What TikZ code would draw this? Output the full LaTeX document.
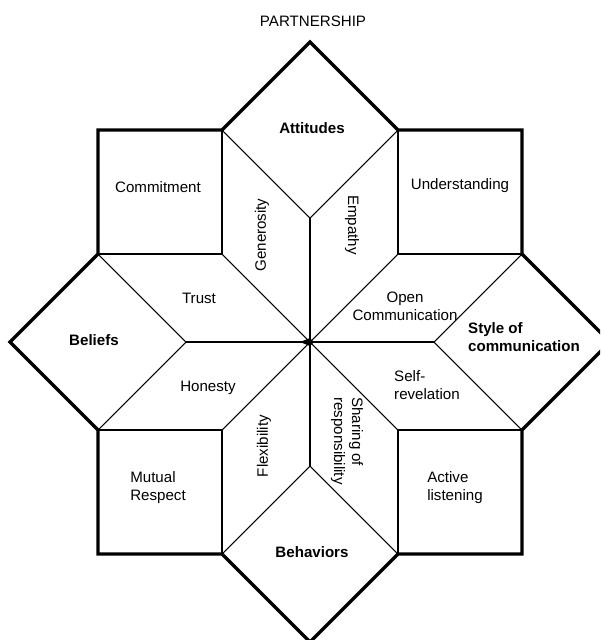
\documentclass[tikz,border=0pt]{standalone}
\usepackage{fontspec}
\setmainfont{Liberation Sans}

\begin{document}
\begin{tikzpicture}[x=0.02cm,y=-0.02cm,
    rim/.style={line width=1.9pt, line join=miter},
    web/.style={line width=0.6pt},
    lbl/.style={font=\fontsize{8.6}{10.3}\selectfont, inner sep=0pt},
    head/.style={lbl, font=\fontsize{8.6}{10.3}\selectfont\bfseries}]
    \useasboundingbox (0,0) rectangle (600,640);
    \clip (0,0) rectangle (600,640);

    % corners of the star
    \coordinate (ctr) at (310,342);
    \coordinate (N0)  at (310,42);
    \coordinate (N1)  at (222,130);
    \coordinate (N2)  at (398,130);
    \coordinate (Nin) at (310,218);
    \coordinate (W0)  at (10,342);
    \coordinate (W1)  at (98,254);
    \coordinate (W2)  at (98,430);
    \coordinate (Win) at (186,342);
    \coordinate (E0)  at (610,342);
    \coordinate (E1)  at (522,254);
    \coordinate (E2)  at (522,430);
    \coordinate (Ein) at (434,342);
    \coordinate (S0)  at (310,642);
    \coordinate (S1)  at (222,554);
    \coordinate (S2)  at (398,554);
    \coordinate (Sin) at (310,466);
    \coordinate (nw)  at (98,130);
    \coordinate (ne)  at (522,130);
    \coordinate (sw)  at (98,554);
    \coordinate (se)  at (522,554);
    \coordinate (inw) at (222,254);
    \coordinate (ine) at (398,254);
    \coordinate (isw) at (222,430);
    \coordinate (ise) at (398,430);

    % inner lines
    \draw[web] (N1) -- (Nin) -- (N2);
    \draw[web] (W1) -- (Win) -- (W2);
    \draw[web] (E1) -- (Ein) -- (E2);
    \draw[web] (S1) -- (Sin) -- (S2);
    \draw[web] (N1) -- (inw) -- (W1);
    \draw[web] (W2) -- (isw) -- (S1);
    \draw[web] (S2) -- (ise) -- (E2);
    \draw[web] (E1) -- (ine) -- (N2);
    \foreach \p in {Nin,inw,Win,isw,Sin,ise,Ein,ine}
        \draw[web] (ctr) -- (\p);
    \fill ([xshift=-0.2cm]ctr) -- ([yshift=0.08cm]ctr) -- ([xshift=0.08cm]ctr) -- ([yshift=-0.08cm]ctr) -- cycle;

    % outline
    \draw[rim] (N0) -- (N2) -- (ne) -- (E1) -- (E0) -- (E2) -- (se) -- (S2)
        -- (S0) -- (S1) -- (sw) -- (W2) -- (W0) -- (W1) -- (nw) -- (N1) -- cycle;

    \node[lbl] (title) at (313,21) {PARTNERSHIP};

    \node[head] (att) at (312,128) {Attitudes};
    \node[head] (bel) at (94,340) {Beliefs};
    \node[head, align=left] (sty) at (524,337) {Style of\\communication};
    \node[head] (beh) at (312,552) {Behaviors};

    \node[lbl] (com) at (158,187) {Commitment};
    \node[lbl] (und) at (460,186) {Understanding};
    \node[lbl, align=left] (mut) at (158,488) {Mutual\\Respect};
    \node[lbl, align=left] (act) at (455,488) {Active\\listening};

    \node[lbl, rotate=90] (gen) at (262,235) {Generosity};
    \node[lbl, rotate=-90] (emp) at (352,225) {Empathy};
    \node[lbl] (tru) at (199,298) {Trust};
    \node[lbl] (hon) at (208,388) {Honesty};
    \node[lbl, align=center] (ope) at (405,306) {Open\\Communication};
    \node[lbl, align=left] (sel) at (427,385) {Self-\\revelation};
    \node[lbl, rotate=90] (fle) at (264,446) {Flexibility};
    \node[lbl, rotate=-90, align=left] (sha) at (347,441) {Sharing of\\responsibility};
\end{tikzpicture}
\end{document}
